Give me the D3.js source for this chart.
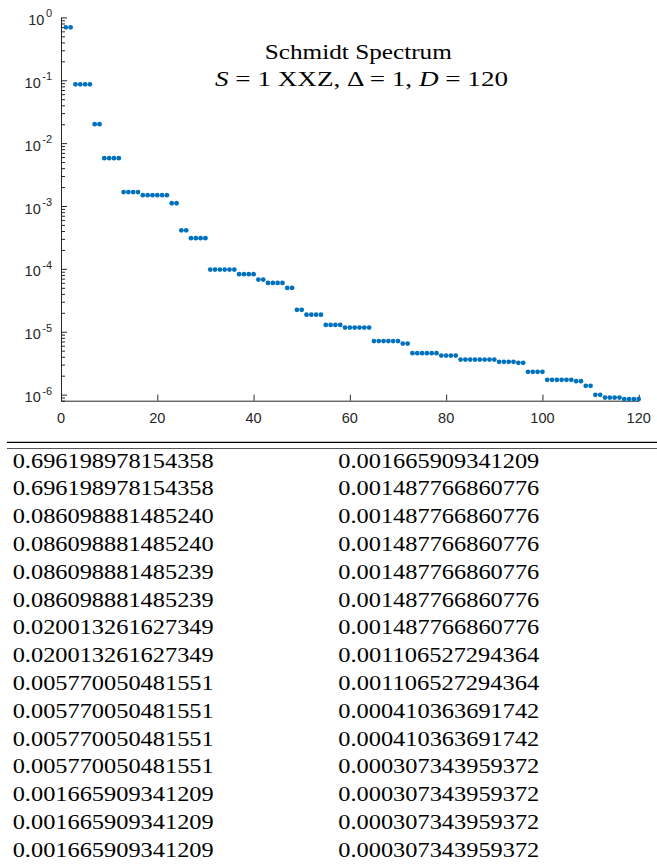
<!DOCTYPE html>
<html><head><meta charset="utf-8">
<script src="https://cdn.jsdelivr.net/npm/d3@7"></script>
<style>body{margin:0;background:#fff}svg{display:block}</style>
</head><body>
<svg id="c" width="657" height="865"></svg>
<script>
// Schmidt spectrum values (index 1..120)
const schmidt = [
  0.696198978154358, 0.696198978154358,
  0.086098881485240, 0.086098881485240, 0.086098881485239, 0.086098881485239,
  0.020013261627349, 0.020013261627349,
  0.005770050481551, 0.005770050481551, 0.005770050481551, 0.005770050481551,
  0.001665909341209, 0.001665909341209, 0.001665909341209, 0.001665909341209,
  0.001487766860776, 0.001487766860776, 0.001487766860776, 0.001487766860776, 0.001487766860776, 0.001487766860776,
  0.001106527294364, 0.001106527294364,
  0.000410363691742, 0.000410363691742,
  0.000307343959372, 0.000307343959372, 0.000307343959372, 0.000307343959372,
  9.73e-5, 9.73e-5, 9.73e-5, 9.73e-5, 9.73e-5, 9.73e-5,
  8.22e-5, 8.22e-5, 8.22e-5, 8.22e-5,
  6.75e-5, 6.75e-5,
  5.98e-5, 5.98e-5, 5.98e-5, 5.98e-5,
  4.98e-5, 4.98e-5,
  2.23e-5, 2.23e-5,
  1.87e-5, 1.87e-5, 1.87e-5, 1.87e-5,
  1.285e-5, 1.285e-5, 1.285e-5, 1.285e-5,
  1.164e-5, 1.164e-5, 1.164e-5, 1.164e-5, 1.164e-5, 1.164e-5,
  7.10e-6, 7.10e-6, 7.10e-6, 7.10e-6, 7.10e-6, 7.10e-6,
  6.48e-6, 6.48e-6,
  4.56e-6, 4.56e-6, 4.56e-6, 4.56e-6, 4.56e-6, 4.56e-6,
  4.17e-6, 4.17e-6, 4.17e-6, 4.17e-6,
  3.61e-6, 3.61e-6, 3.61e-6, 3.61e-6, 3.61e-6, 3.61e-6, 3.61e-6, 3.61e-6,
  3.32e-6, 3.32e-6, 3.32e-6, 3.32e-6,
  3.20e-6, 3.20e-6,
  2.30e-6, 2.30e-6, 2.30e-6, 2.30e-6,
  1.716e-6, 1.716e-6, 1.716e-6, 1.716e-6, 1.716e-6, 1.716e-6,
  1.636e-6, 1.636e-6,
  1.378e-6, 1.378e-6,
  9.91e-7, 9.91e-7,
  8.97e-7, 8.97e-7, 8.97e-7, 8.97e-7,
  8.50e-7, 8.50e-7, 8.50e-7, 8.50e-7
];
const xTickValues = [0, 20, 40, 60, 80, 100, 120];
const yDecadeExponents = [0, -1, -2, -3, -4, -5, -6];
const titleLine1 = "Schmidt Spectrum";
const tableRowsPerColumn = 15;

const svg = d3.select("#c");
const axisColor = "#262626";
const sans = "'Liberation Sans', Arial, Helvetica, sans-serif";
const serif = "'Liberation Serif', 'Times New Roman', serif";

const x = d3.scaleLinear().domain([0, 120]).range([61, 638.7]);
const y = d3.scaleLog().domain([8.0e-7, 1]).range([400.7, 17.4]);

// Y axis (ticks pointing inward)
const yMajor = yDecadeExponents.map(e => Math.pow(10, e));
const yMinor = [];
for (let e = -7; e < 0; e++) for (let m = 2; m <= 9; m++) {
  const v = m * Math.pow(10, e);
  if (v >= 7.99e-7 && v < 1) yMinor.push(v);
}
const gy = svg.append("g").attr("transform", "translate(61,0)")
  .call(d3.axisRight(y).tickValues(yMajor).tickSizeInner(6).tickSizeOuter(0).tickFormat(""));
const gyMinor = svg.append("g").attr("transform", "translate(61,0)")
  .call(d3.axisRight(y).tickValues(yMinor).tickSizeInner(4).tickSizeOuter(0).tickFormat(""));
gyMinor.select(".domain").remove();
[gy, gyMinor].forEach(g => { g.selectAll("path,line").attr("stroke", axisColor); });

svg.append("g").selectAll("text").data(yDecadeExponents).join("text")
  .attr("x", 52).attr("y", e => y(Math.pow(10, e)) + 7.5)
  .attr("text-anchor", "end").attr("font-family", sans).attr("font-size", 14.5).attr("fill", axisColor)
  .each(function (e) {
    const t = d3.select(this);
    t.append("tspan").text("10");
    t.append("tspan").attr("dx", 1.5).attr("dy", -7.5).attr("font-size", 11).text(String(e));
  });

// X axis
const gx = svg.append("g").attr("transform", "translate(0,400.7)")
  .call(d3.axisTop(x).tickValues(xTickValues).tickSizeInner(6).tickSizeOuter(0).tickFormat(""));
gx.selectAll("path,line").attr("stroke", axisColor);
svg.append("g").selectAll("text").data(xTickValues).join("text")
  .attr("x", d => x(d)).attr("y", 423)
  .attr("text-anchor", "middle").attr("font-family", sans).attr("font-size", 14.5).attr("fill", axisColor)
  .text(d => d);

// Points
svg.append("g").selectAll("circle").data(schmidt).join("circle")
  .attr("cx", (d, i) => x(i + 1)).attr("cy", d => y(d)).attr("r", 2.4)
  .attr("fill", "#0072BD");

// Title
svg.append("text").attr("x", 358.3).attr("y", 59.3).attr("text-anchor", "middle")
  .attr("font-family", serif).attr("font-size", 21).attr("fill", "#000")
  .attr("textLength", 187).attr("lengthAdjust", "spacingAndGlyphs").text(titleLine1);
const t2 = svg.append("text").attr("x", 361.5).attr("y", 86).attr("text-anchor", "middle")
  .attr("font-family", serif).attr("font-size", 21).attr("fill", "#000")
  .attr("textLength", 293).attr("lengthAdjust", "spacingAndGlyphs");
t2.append("tspan").attr("font-style", "italic").text("S");
t2.append("tspan").text(" = 1 XXZ, \u0394 = 1, ");
t2.append("tspan").attr("font-style", "italic").text("D");
t2.append("tspan").text(" = 120");

// Table
svg.append("line").attr("x1", 7).attr("x2", 657).attr("y1", 442.3).attr("y2", 442.3)
  .attr("stroke", "#000").attr("stroke-width", 1.3);
svg.append("line").attr("x1", 7).attr("x2", 657).attr("y1", 448.5).attr("y2", 448.5)
  .attr("stroke", "#555").attr("stroke-width", 1);
const tableVals = schmidt.slice(0, 2 * tableRowsPerColumn);
svg.append("g").selectAll("text").data(tableVals).join("text")
  .attr("x", (d, i) => i < tableRowsPerColumn ? 12.7 : 338.3)
  .attr("y", (d, i) => 467.5 + (i % tableRowsPerColumn) * 27.8)
  .attr("font-family", serif).attr("font-size", 21.5).attr("fill", "#000")
  .attr("textLength", 201).attr("lengthAdjust", "spacingAndGlyphs")
  .text(d => d.toFixed(15));
</script>
</body></html>
